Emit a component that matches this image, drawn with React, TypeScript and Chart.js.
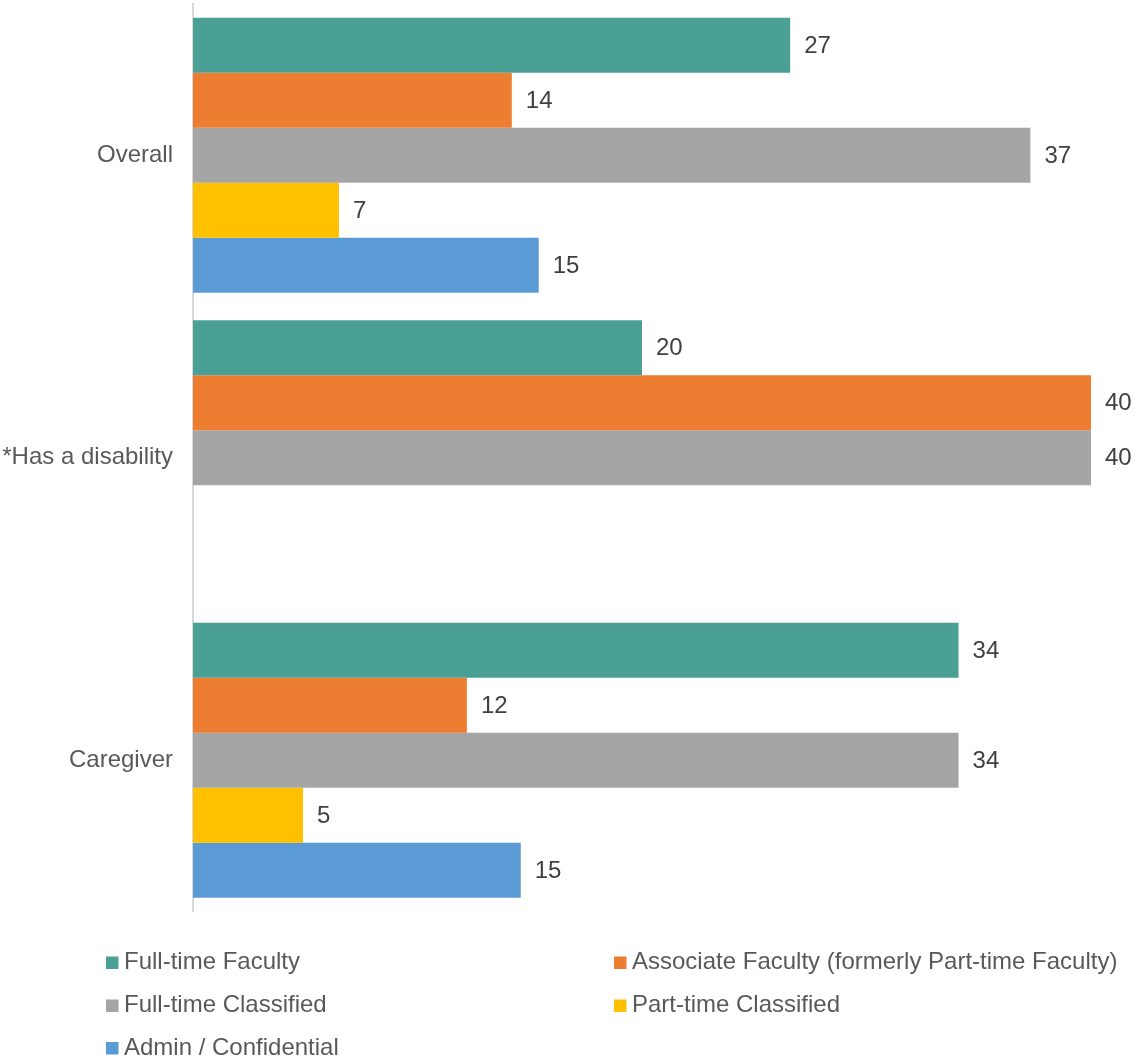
import React, { useEffect, useRef } from "react";
import { Chart, registerables } from "chart.js";

Chart.register(...registerables);

const categories = ["Overall", "*Has a disability", "Caregiver"];
const seriesNames = [
  "Full-time Faculty",
  "Associate Faculty (formerly Part-time Faculty)",
  "Full-time Classified",
  "Part-time Classified",
  "Admin / Confidential",
];
const seriesColors = ["#4BA095", "#ED7D31", "#A5A5A5", "#FFC000", "#5B9BD5"];
const fullTimeFaculty = [26.6, 20.0, 34.1];
const associateFaculty = [14.2, 40.0, 12.2];
const fullTimeClassified = [37.3, 40.0, 34.1];
const partTimeClassified: (number | null)[] = [6.5, null, 4.9];
const adminConfidential: (number | null)[] = [15.4, null, 14.6];
const axisMax = 40;

const FONT = '"Liberation Sans", Arial, sans-serif';

const valueLabelPlugin = {
  id: "valueLabels",
  afterDatasetsDraw(chart: any) {
    const ctx = chart.ctx;
    ctx.save();
    ctx.font = `24px ${FONT}`;
    ctx.fillStyle = "#404040";
    ctx.textAlign = "left";
    ctx.textBaseline = "middle";
    chart.data.datasets.forEach((ds: any, di: number) => {
      const meta = chart.getDatasetMeta(di);
      meta.data.forEach((bar: any, i: number) => {
        const v = ds.data[i];
        if (v === null || v === undefined) return;
        ctx.fillText(String(Math.round(v)), bar.x + 14, bar.y + 1);
      });
    });
    ctx.restore();
  },
};

const legendPlugin = {
  id: "customLegend",
  afterDraw(chart: any) {
    const ctx = chart.ctx;
    ctx.save();
    ctx.font = `24px ${FONT}`;
    ctx.textAlign = "left";
    ctx.textBaseline = "alphabetic";
    const colX = [106, 614];
    const rowBase = [969, 1012, 1054.5];
    chart.data.datasets.forEach((ds: any, i: number) => {
      const col = i % 2;
      const row = Math.floor(i / 2);
      const x = colX[col];
      const base = rowBase[row];
      ctx.fillStyle = ds.backgroundColor;
      ctx.fillRect(x, base - 12.5, 12.5, 12.5);
      ctx.fillStyle = "#595959";
      ctx.fillText(ds.label, x + 18, base);
    });
    ctx.restore();
  },
};

export default function App() {
  const canvasRef = useRef<HTMLCanvasElement | null>(null);

  useEffect(() => {
    if (!canvasRef.current) return;
    const seriesData = [
      fullTimeFaculty,
      associateFaculty,
      fullTimeClassified,
      partTimeClassified,
      adminConfidential,
    ];
    const chart = new Chart(canvasRef.current, {
      type: "bar",
      data: {
        labels: categories,
        datasets: seriesNames.map((name, i) => ({
          label: name,
          data: seriesData[i] as any,
          backgroundColor: seriesColors[i],
          borderWidth: 0,
          categoryPercentage: 0.909,
          barPercentage: 1,
        })),
      },
      options: {
        indexAxis: "y",
        responsive: false,
        animation: false,
        layout: { padding: { top: 4, right: 44, bottom: 145.5, left: 0 } },
        plugins: {
          legend: { display: false },
          tooltip: { enabled: false },
        },
        scales: {
          x: {
            display: false,
            min: 0,
            max: axisMax,
          },
          y: {
            grid: { display: false, drawTicks: false },
            border: { display: true, color: "#D9D9D9", width: 2 },
            ticks: {
              padding: 20,
              color: "#595959",
              font: { family: FONT, size: 24 },
            },
            afterFit: (scale: any) => {
              scale.width = 193;
              scale.paddingTop = 0;
              scale.paddingBottom = 0;
            },
          },
        },
      },
      plugins: [valueLabelPlugin, legendPlugin],
    });
    return () => chart.destroy();
  }, []);

  return (
    <div style={{ position: "absolute", left: 0, top: 0, width: 1135, height: 1057, background: "#fff" }}>
      <canvas ref={canvasRef} width={1135} height={1057} style={{ display: "block" }} />
    </div>
  );
}
